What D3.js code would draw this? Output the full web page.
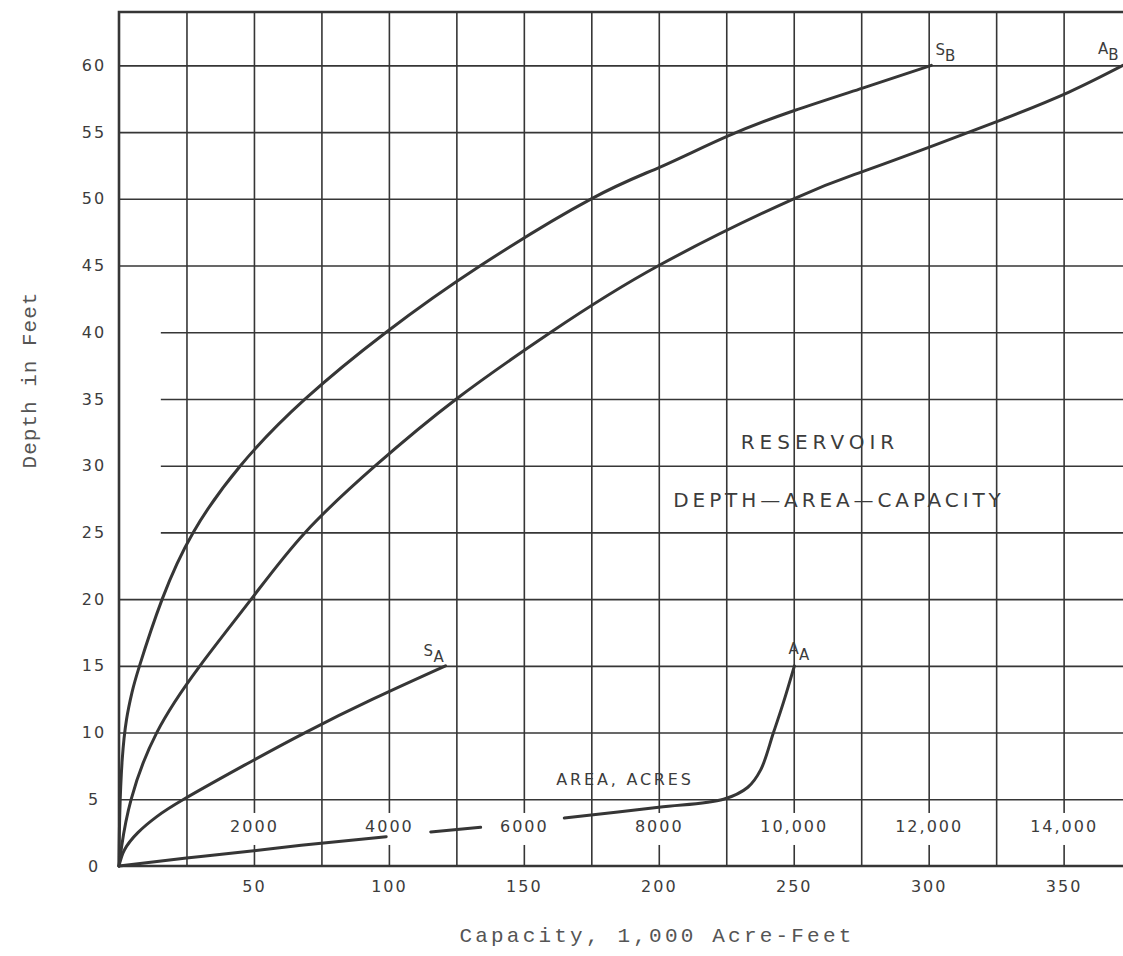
<!DOCTYPE html>
<html>
<head>
<meta charset="utf-8">
<script src="https://cdn.jsdelivr.net/npm/d3@7"></script>
<style>
    body { margin: 0; background: #fff; }
    .tick-num { font-family: 'DejaVu Sans', sans-serif; font-size: 16px; letter-spacing: 2px; fill: #3c3c3c; }
    .title { font-family: 'Liberation Mono', 'Courier New', monospace; font-size: 21px; fill: #555; }
    .note { font-family: 'DejaVu Sans', sans-serif; fill: #3c3c3c; }
</style>
</head>
<body>
<div class="canvas"></div>
<script>
// tick values
const depthTicks = d3.range(0, 61, 5);
const shortGridDepths = [25, 30, 35, 40];
const capacityGrid = d3.range(25, 371, 25);
const capacityTicks = [50, 100, 150, 200, 250, 300, 350];
const areaTicks = [2000, 4000, 6000, 8000, 10000, 12000, 14000];
const areaTickLabels = ['2000', '4000', '6000', '8000', '10,000', '12,000', '14,000'];

// S_B : [capacity 1000 ac-ft, depth ft]
const capacityB = [
    [0, 0], [0.3, 4], [1.2, 8], [2.8, 11], [4.8, 13], [7.6, 15], [16, 20], [27.5, 25],
    [45, 30], [69, 35], [99, 40], [134, 45], [175, 50], [200.7, 52.4],
    [225.5, 54.7], [250, 56.6], [275.5, 58.3], [301, 60]
];
// A_B : [area acres, depth ft]
const areaB = [
    [0, 0], [40, 1.5], [180, 5], [560, 10], [1200, 15], [1960, 20], [2760, 25],
    [3800, 30], [5000, 35], [6400, 40], [8000, 45], [10000, 50], [11000, 52],
    [12080, 54], [13120, 56], [14080, 58], [14880, 60]
];
// S_A : [capacity, depth]
const capacityA = [
    [0, 0], [2, 1.2], [7, 2.5], [14, 3.7], [24, 5], [46, 7.5], [69, 10], [94, 12.5], [121, 15]
];
// A_A : [area acres, depth], drawn in three pieces (broken round the labels)
const areaA1 = [[0, 0], [1000, 0.6], [2000, 1.15], [2700, 1.55], [3960, 2.2]];
const areaA2 = [[4620, 2.55], [5360, 2.9]];
const areaA3 = [
    [6600, 3.6], [8000, 4.4], [8960, 5], [9320, 5.9], [9510, 7.2],
    [9700, 10], [9850, 12.3], [10010, 15]
];

const margin = { top: 12, right: 0, bottom: 90, left: 119 };
const width = 1123 - margin.left - margin.right;
const height = 956 - margin.top - margin.bottom;
const ink = '#363636';

const svg = d3.select('.canvas')
    .append('svg')
    .attr('width', 1123)
    .attr('height', 956)
;

const graph = svg.append('g')
    .attr('transform', `translate(${margin.left}, ${margin.top})`)
;

// scales
const x = d3.scaleLinear().domain([0, 372]).range([0, width]);
const area = d3.scaleLinear().domain([0, 372 * 40]).range([0, width]);
const y = d3.scaleLinear().domain([0, 64]).range([height, 0]);

// vertical grid
graph.append('g')
    .attr('transform', `translate(0, ${height})`)
    .call(d3.axisBottom(x).tickValues(capacityGrid).tickSize(-height).tickFormat(''))
    .call(g => g.select('.domain').remove())
    .call(g => g.selectAll('line').attr('stroke', ink).attr('stroke-width', 1.6))
;

// horizontal grid (full width)
graph.append('g')
    .call(d3.axisLeft(y).tickValues(depthTicks.filter(d => d > 0 && !shortGridDepths.includes(d)))
        .tickSize(-width).tickFormat(''))
    .call(g => g.select('.domain').remove())
    .call(g => g.selectAll('line').attr('stroke', ink).attr('stroke-width', 1.6))
;

// horizontal grid starting off the frame
graph.append('g')
    .attr('transform', `translate(${x(15.5)}, 0)`)
    .call(d3.axisLeft(y).tickValues(shortGridDepths).tickSize(-(width - x(15.5))).tickFormat(''))
    .call(g => g.select('.domain').remove())
    .call(g => g.selectAll('line').attr('stroke', ink).attr('stroke-width', 1.6))
;

// area labels inside the plot, with white boxes that break the grid
const areaAxis = graph.append('g')
    .attr('transform', `translate(0, ${y(3)})`)
    .call(d3.axisBottom(area).tickValues(areaTicks).tickSize(0).tickPadding(0)
        .tickFormat((d, i) => areaTickLabels[i]))
    .call(g => g.select('.domain').remove())
;
areaAxis.selectAll('text')
    .attr('class', 'tick-num')
    .attr('dy', '0.35em')
    .attr('fill', null)
;
areaAxis.selectAll('.tick').each(function () {
    const t = d3.select(this).select('text');
    const b = t.node().getBBox();
    d3.select(this).insert('rect', 'text')
        .attr('x', b.x - 5)
        .attr('y', -13)
        .attr('width', b.width + 10)
        .attr('height', 32)
        .attr('fill', '#fff')
    ;
});

// frame
graph.append('path')
    .attr('d', `M${x(0)},${y(0)}V${y(64)}H${width}`)
    .attr('fill', 'none')
    .attr('stroke', ink)
    .attr('stroke-width', 2.6)
;
graph.append('line')
    .attr('x1', x(0)).attr('x2', width)
    .attr('y1', y(0)).attr('y2', y(0))
    .attr('stroke', ink)
    .attr('stroke-width', 2.4)
;

// depth labels
graph.append('g')
    .call(d3.axisLeft(y).tickValues(depthTicks).tickSize(0).tickPadding(0))
    .call(g => g.select('.domain').remove())
    .call(g => g.selectAll('text')
        .attr('class', 'tick-num')
        .attr('fill', null)
        .attr('x', -25)
        .attr('text-anchor', 'middle'))
;

// capacity labels
graph.append('g')
    .attr('transform', `translate(0, ${height})`)
    .call(d3.axisBottom(x).tickValues(capacityTicks).tickSize(0).tickPadding(15))
    .call(g => g.select('.domain').remove())
    .call(g => g.selectAll('text').attr('class', 'tick-num').attr('fill', null))
;

// curves
const capLine = d3.line().x(d => x(d[0])).y(d => y(d[1])).curve(d3.curveNatural);
const areaLine = d3.line().x(d => area(d[0])).y(d => y(d[1])).curve(d3.curveNatural);
const areaKnee = d3.line().x(d => area(d[0])).y(d => y(d[1])).curve(d3.curveCatmullRom.alpha(0.5));

[[capacityB, capLine], [areaB, areaLine], [capacityA, capLine],
 [areaA1, areaLine], [areaA2, areaLine], [areaA3, areaKnee]].forEach(([data, gen]) => {
    graph.append('path')
        .datum(data)
        .attr('d', gen)
        .attr('fill', 'none')
        .attr('stroke', ink)
        .attr('stroke-width', 3)
        .attr('stroke-linecap', 'round')
    ;
});

// curve end labels
const endLabel = (px, py, main, sub, dx, dy) => {
    const t = graph.append('text')
        .attr('class', 'note')
        .attr('x', px + dx)
        .attr('y', py + dy)
        .style('font-size', '15px')
    ;
    t.append('tspan').text(main);
    t.append('tspan').attr('dy', 6).text(sub);
};
const sbEnd = capacityB[capacityB.length - 1];
const abEnd = areaB[areaB.length - 1];
const saEnd = capacityA[capacityA.length - 1];
const aaEnd = areaA3[areaA3.length - 1];
endLabel(x(sbEnd[0]), y(sbEnd[1]), 'S', 'B', 4, -10);
endLabel(area(abEnd[0]), y(abEnd[1]), 'A', 'B', -25, -11);
endLabel(x(saEnd[0]), y(saEnd[1]), 'S', 'A', -22, -10);
endLabel(area(aaEnd[0]), y(aaEnd[1]), 'A', 'A', -6, -12);

graph.append('text')
    .attr('class', 'note')
    .attr('x', 625 - margin.left)
    .attr('y', y(5) - 14)
    .attr('text-anchor', 'middle')
    .style('font-size', '16px')
    .style('letter-spacing', '2.8px')
    .text('AREA, ACRES')
;

// chart notes
graph.append('text')
    .attr('class', 'note')
    .attr('x', 820 - margin.left)
    .attr('y', y(31.25))
    .attr('text-anchor', 'middle')
    .style('font-size', '20px')
    .style('letter-spacing', '5px')
    .text('RESERVOIR')
;
graph.append('text')
    .attr('class', 'note')
    .attr('x', 839 - margin.left)
    .attr('y', y(26.9))
    .attr('text-anchor', 'middle')
    .style('font-size', '20px')
    .style('letter-spacing', '3.9px')
    .text('DEPTH\u2014AREA\u2014CAPACITY')
;

// axis titles
svg.append('text')
    .attr('class', 'title')
    .attr('transform', 'translate(36, 380) rotate(-90)')
    .attr('text-anchor', 'middle')
    .style('letter-spacing', '1px')
    .text('Depth in Feet')
;
svg.append('text')
    .attr('class', 'title')
    .attr('x', 657)
    .attr('y', 942)
    .attr('text-anchor', 'middle')
    .style('letter-spacing', '3.2px')
    .text('Capacity, 1,000 Acre-Feet')
;
</script>
</body>
</html>
